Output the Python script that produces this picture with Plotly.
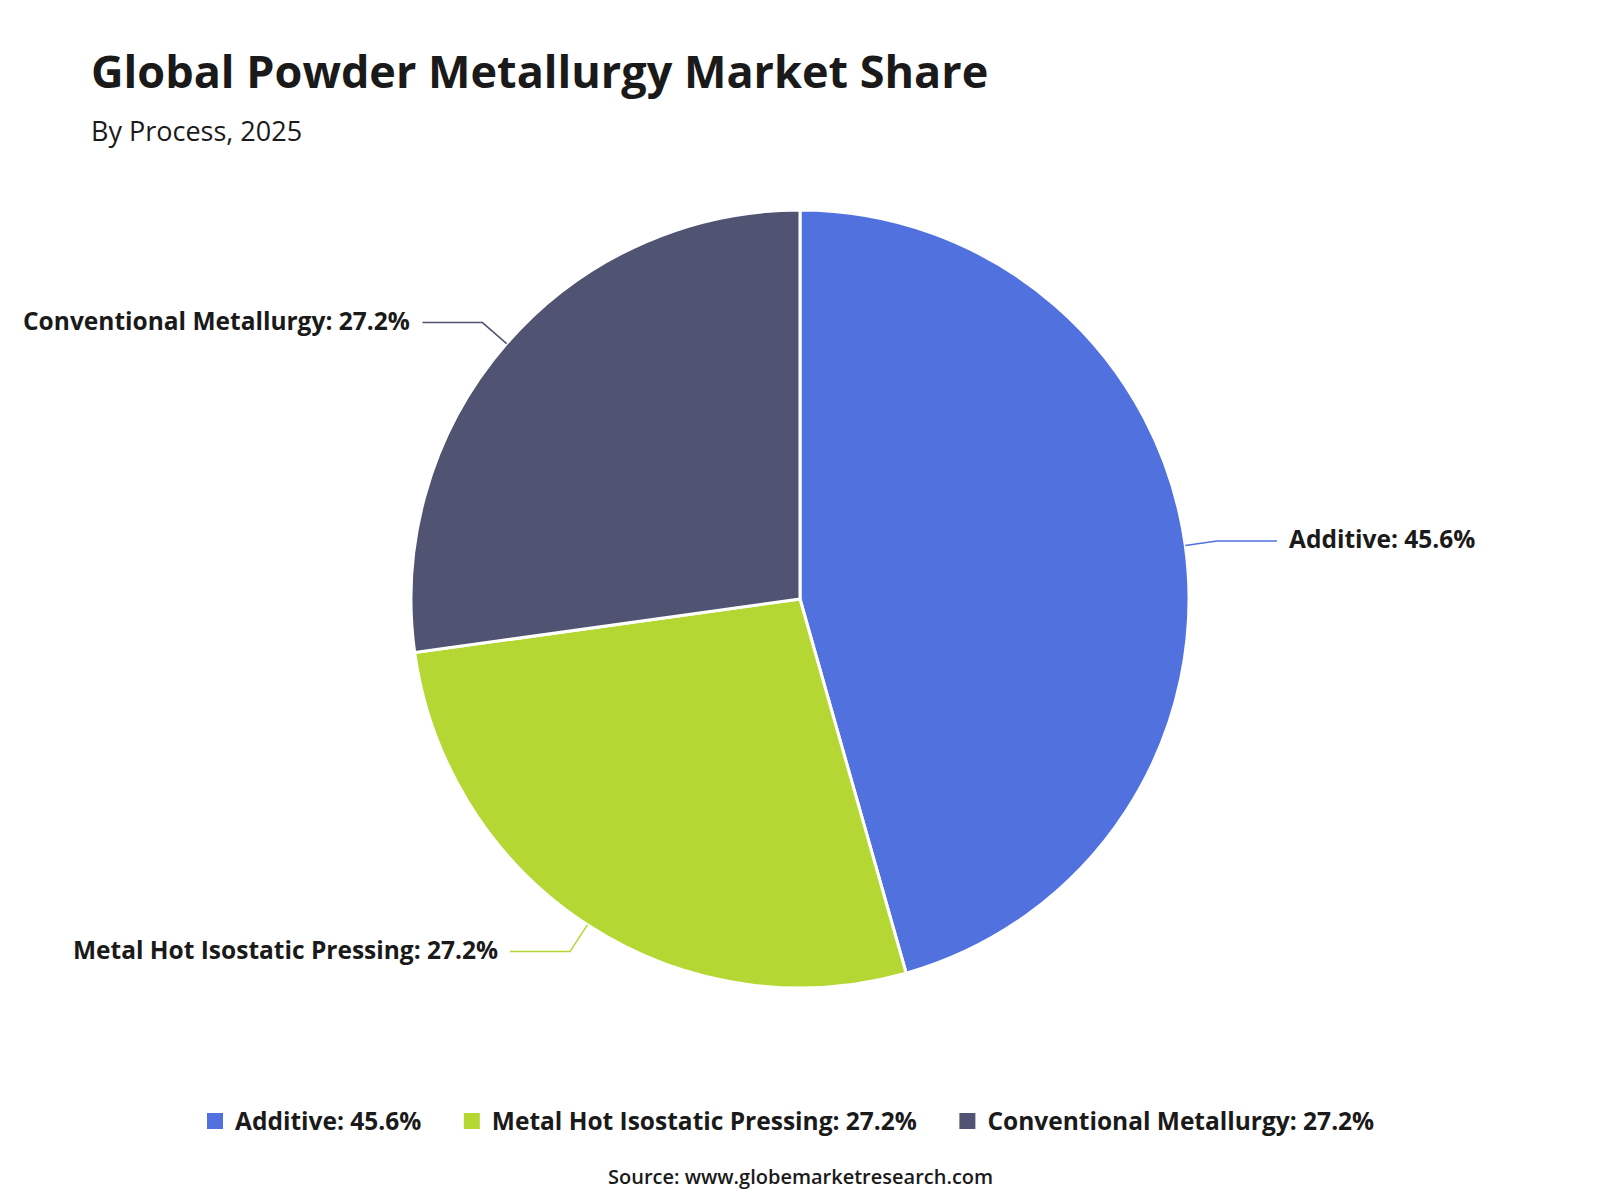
import math
import plotly.graph_objects as go

# ---- data ----
categories = ["Additive", "Metal Hot Isostatic Pressing", "Conventional Metallurgy"]
shares = [45.6, 27.2, 27.2]
colors = ["#5171DE", "#B5D733", "#505372"]

title_text = "Global Powder Metallurgy Market Share"
subtitle_text = "By Process, 2025"
source_text = "Source: www.globemarketresearch.com"

# ---- layout geometry (pixels) ----
W, H = 1600, 1200
CX, CY, R = 800, 599, 389
FONT = "Open Sans"
TXT = "#1a1a1a"

labels = [f"{c}: {v:.1f}%" for c, v in zip(categories, shares)]

fig = go.Figure(go.Pie(
    labels=labels,
    values=shares,
    sort=False,
    direction="clockwise",
    rotation=0,
    marker=dict(colors=colors, line=dict(color="white", width=3)),
    textinfo="none",
    hoverinfo="skip",
    showlegend=False,
    domain=dict(x=[(CX - R) / W, (CX + R) / W], y=[1 - (CY + R) / H, 1 - (CY - R) / H]),
))

# legend entries (larger square swatches)
for lab, col in zip(labels, colors):
    fig.add_trace(go.Scatter(
        x=[None], y=[None], mode="markers", name=lab + "\u00a0" * 4,
        marker=dict(symbol="square", size=20, color=col),
        hoverinfo="skip", showlegend=True,
    ))

def px2paper(x, y):
    return x / W, 1 - y / H

total = sum(shares)
cum = 0.0
shapes = []
annotations = []
for lab, v, col in zip(labels, shares, colors):
    mid = (cum + v / 2) / total * 2 * math.pi
    cum += v
    s, c = math.sin(mid), math.cos(mid)
    x0, y0 = CX + R * s, CY - R * c
    x1, y1 = CX + (R + 32) * s, CY - (R + 32) * c
    side = 1 if s > 0 else -1
    x2, y2 = x1 + side * 60, y1
    p0, p1, p2 = px2paper(x0, y0), px2paper(x1, y1), px2paper(x2, y2)
    shapes.append(dict(
        type="path", xref="paper", yref="paper",
        path=f"M {p0[0]},{p0[1]} L {p1[0]},{p1[1]} L {p2[0]},{p2[1]}",
        line=dict(color=col, width=1.5),
    ))
    lx, ly = px2paper(x2 + side * 10, y2 - 2)
    annotations.append(dict(
        x=lx, y=ly, xref="paper", yref="paper", showarrow=False,
        xanchor="left" if side > 0 else "right", yanchor="middle",
        text=f"<b>{lab}</b>", font=dict(family=FONT, size=24.5, color=TXT),
    ))

tx, ty = px2paper(89, 70)
annotations.append(dict(x=tx, y=ty, xref="paper", yref="paper", showarrow=False,
                        xanchor="left", yanchor="middle",
                        text=f"<b>{title_text}</b>",
                        font=dict(family=FONT, size=45, color=TXT)))
sx, sy = px2paper(89, 130)
annotations.append(dict(x=sx, y=sy, xref="paper", yref="paper", showarrow=False,
                        xanchor="left", yanchor="middle",
                        text=subtitle_text,
                        font=dict(family=FONT, size=27, color=TXT)))
ox, oy = px2paper(800, 1176)
annotations.append(dict(x=ox, y=oy, xref="paper", yref="paper", showarrow=False,
                        xanchor="center", yanchor="middle",
                        text=source_text,
                        font=dict(family=FONT, size=20, color=TXT, weight=600)))

fig.update_layout(
    width=W, height=H,
    margin=dict(l=0, r=0, t=0, b=0),
    paper_bgcolor="white", plot_bgcolor="white",
    xaxis=dict(visible=False), yaxis=dict(visible=False),
    shapes=shapes, annotations=annotations,
    showlegend=True,
    legend=dict(orientation="h", x=0.5, xanchor="center", y=1 - 1121 / H, yanchor="middle",
                font=dict(family=FONT, size=24.5, color=TXT, weight="bold"),
                itemsizing="trace",
                itemclick=False, itemdoubleclick=False),
)

fig.write_html("out.html")
